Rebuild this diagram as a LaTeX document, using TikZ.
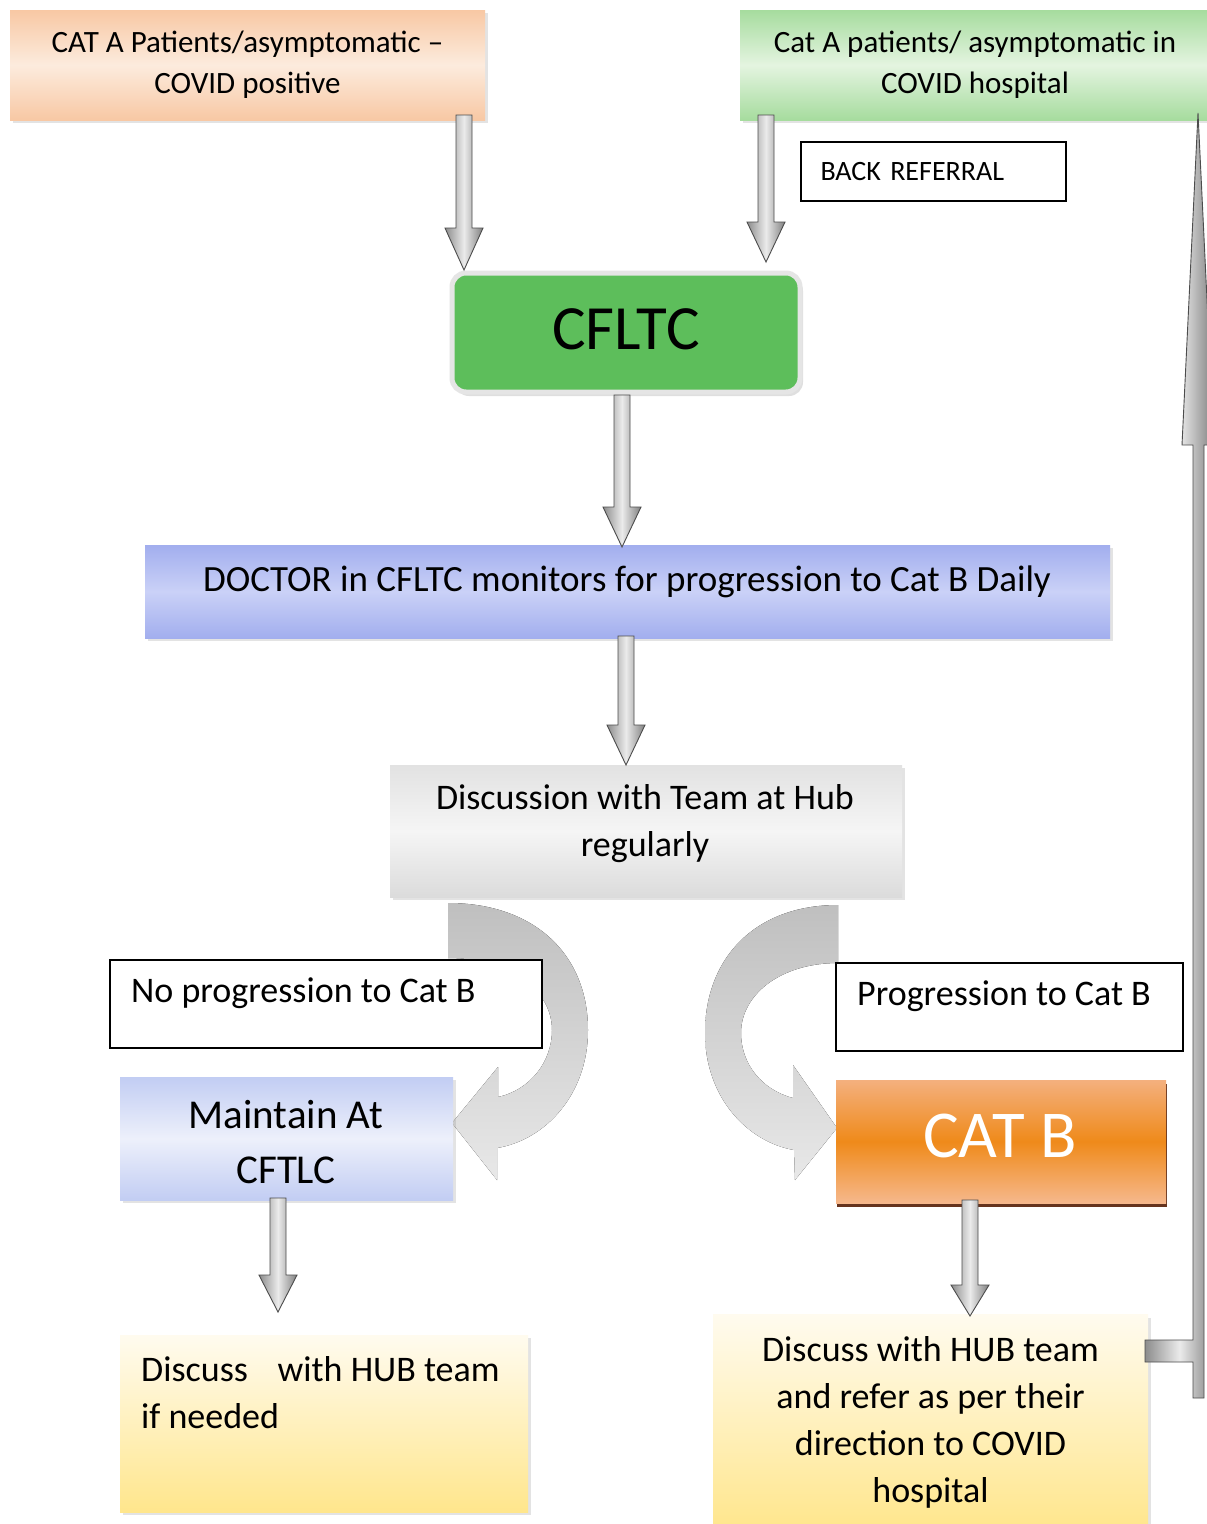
\documentclass[tikz,border=0pt]{standalone}
\usepackage{fontspec}
\setmainfont{Carlito}
\usetikzlibrary{shadows}
\definecolor{peachA}{HTML}{F8C8A4}
\definecolor{peachM}{HTML}{FCEBDD}
\definecolor{greenA}{HTML}{A6DC9E}
\definecolor{greenM}{HTML}{E4F4E0}
\definecolor{cfltcG}{HTML}{5DBE5B}
\definecolor{lavA}{HTML}{A2AEEE}
\definecolor{lavM}{HTML}{CAD1F7}
\definecolor{grayA}{HTML}{E2E2E2}
\definecolor{grayM}{HTML}{F5F5F5}
\definecolor{paleBlueA}{HTML}{C2CDF3}
\definecolor{paleBlueM}{HTML}{EDF0FB}
\definecolor{yelTop}{HTML}{FFFBEF}
\definecolor{yelBot}{HTML}{FFE68C}
\definecolor{orTop}{HTML}{F4B07E}
\definecolor{orMid}{HTML}{EF8A1A}
\definecolor{orBot}{HTML}{F6B88C}
\definecolor{brownSh}{HTML}{5E2A12}
\newcommand{\blockdown}[4]{%
  \draw[blockarrow] (#1-8,#2) -- (#1+8,#2) -- (#1+8,#3) -- (#1+19,#3) -- (#1,#4) -- (#1-19,#3) -- (#1-8,#3) -- cycle;}
\begin{document}
\begin{tikzpicture}[x=1pt,y=-1pt,
  box/.style={inner sep=0pt, align=center},
  softshadow/.style={drop shadow={opacity=0.22, shadow xshift=3pt, shadow yshift=-3pt}},
  frame/.style={draw=black, line width=1.4pt, fill=white, inner sep=0pt},
  blockarrow/.style={draw=black!70, line width=0.9pt, left color=black!45, right color=black!50, middle color=black!8},
  curvefill/.style={top color=black!25, bottom color=black!9},
  ft31/.style={font=\fontsize{31}{41}\selectfont},
  ft36/.style={font=\fontsize{36}{47}\selectfont},
  ft28/.style={font=\fontsize{28}{32}\selectfont}]
\useasboundingbox (0,0) rectangle (1207,1524);
\clip (0,0) rectangle (1207,1524);
\fill[white] (0,0) rectangle (1207,1524);

% curved arrows (behind boxes)
\fill[curvefill] (448,903) .. controls (535,903) and (588,955) .. (588,1030) .. controls (588,1095) and (545,1140) .. (497,1148) -- (497,1180) -- (452,1123) -- (498,1067) -- (498,1097) .. controls (530,1090) and (552,1062) .. (552,1030) .. controls (552,990) and (510,958) .. (448,958) -- cycle;
\fill[curvefill] (838,905) .. controls (755,905) and (705,958) .. (705,1033) .. controls (705,1098) and (748,1142) .. (794,1150) -- (795,1180) -- (837,1128) -- (793,1065) -- (793,1098) .. controls (762,1090) and (741,1064) .. (741,1033) .. controls (741,995) and (780,963) .. (838,963) -- cycle;

% top boxes
\node[box, softshadow, ft31, minimum width=475pt, minimum height=110pt, top color=peachA, bottom color=peachA, middle color=peachM] (catA) at (247.5,65) {CAT A Patients/asymptomatic –\\COVID positive};
\node[box, softshadow, ft31, minimum width=470pt, minimum height=110pt, top color=greenA, bottom color=greenA, middle color=greenM] (catAh) at (975,65) {Cat A patients/ asymptomatic in\\COVID hospital};
\node[frame, ft28, minimum width=265pt, minimum height=59pt, text width=226pt, align=left] (backref) at (933.5,171.5) {BACK REFERRAL};

% CFLTC
\node[box, drop shadow={opacity=0.25, shadow xshift=3pt, shadow yshift=-4pt}, fill=cfltcG, draw=black!10, line width=5pt, rounded corners=14pt, minimum width=348pt, minimum height=119pt] (cfltc) at (626,332.5) {};
\node[box, font=\fontsize{63}{70}\selectfont] (cfltctxt) at (626,329) {CFLTC};

% doctor
\node[box, softshadow, minimum width=965pt, minimum height=93pt, top color=lavA, bottom color=lavA, middle color=lavM] (doctor) at (627.5,591.5) {};
\node[box, font=\fontsize{37}{44}\selectfont] (doctortxt) at (627,582) {DOCTOR in CFLTC monitors for progression to Cat B Daily};

% hub discussion
\node[box, softshadow, minimum width=512pt, minimum height=132pt, top color=grayA, bottom color=black!14, middle color=grayM] (hub) at (646,831) {};
\node[box, ft36] (hubtxt) at (645,824) {Discussion with Team at Hub\\regularly};

% labels
\node[frame, minimum width=432pt, minimum height=88pt] (noprog) at (326,1004) {};
\node[box, ft36, anchor=west] (noprogtxt) at (131,993) {No progression to Cat B};
\node[frame, minimum width=347pt, minimum height=88pt] (prog) at (1009.5,1007) {};
\node[box, ft36, anchor=west] (progtxt) at (857,996) {Progression to Cat B};

% maintain
\node[box, softshadow, font=\fontsize{41}{55}\selectfont, minimum width=333pt, minimum height=123pt, top color=paleBlueA, bottom color=paleBlueA, middle color=paleBlueM] (maintain) at (286.5,1138.5) {};
\node[box, font=\fontsize{41}{55}\selectfont] (maintaintxt) at (286,1142) {Maintain At\\CFTLC};

% CAT B
\node[box, drop shadow={opacity=0.95, color=brownSh, shadow xshift=1pt, shadow yshift=-4pt}, minimum width=330pt, minimum height=123pt, top color=orTop, bottom color=orBot, middle color=orMid] (catB) at (1001,1141.5) {};
\node[box, font=\fontsize{67}{70}\selectfont, text=white] (catBtxt) at (1000,1136) {CAT B};

% yellow boxes
\node[box, softshadow, minimum width=408pt, minimum height=177pt, top color=yelTop, bottom color=yelBot] (discL) at (324,1423.5) {};
\node[box, ft36, anchor=north west, align=left] (discLtxt) at (141,1356) {Discuss\hspace{0.6em} with HUB team\\if needed};
\node[box, softshadow, ft36, minimum width=435pt, minimum height=215pt, top color=yelTop, bottom color=yelBot] (discR) at (930.5,1422) {Discuss with HUB team\\and refer as per their\\direction to COVID\\hospital};

% block arrows
\blockdown{464}{115}{228}{270}
\blockdown{766}{115}{222}{262}
\blockdown{622}{395}{507}{547}
\blockdown{626}{636}{725}{765}
\blockdown{278}{1198}{1275}{1312}
\blockdown{970}{1200}{1285}{1316}

% return arrow
\draw[blockarrow] (1145,1340) -- (1193,1340) -- (1193,445) -- (1182,445) -- (1198,113) -- (1214,445) -- (1204,445) -- (1204,1398) -- (1193,1398) -- (1193,1362) -- (1145,1362) -- cycle;
\end{tikzpicture}
\end{document}
